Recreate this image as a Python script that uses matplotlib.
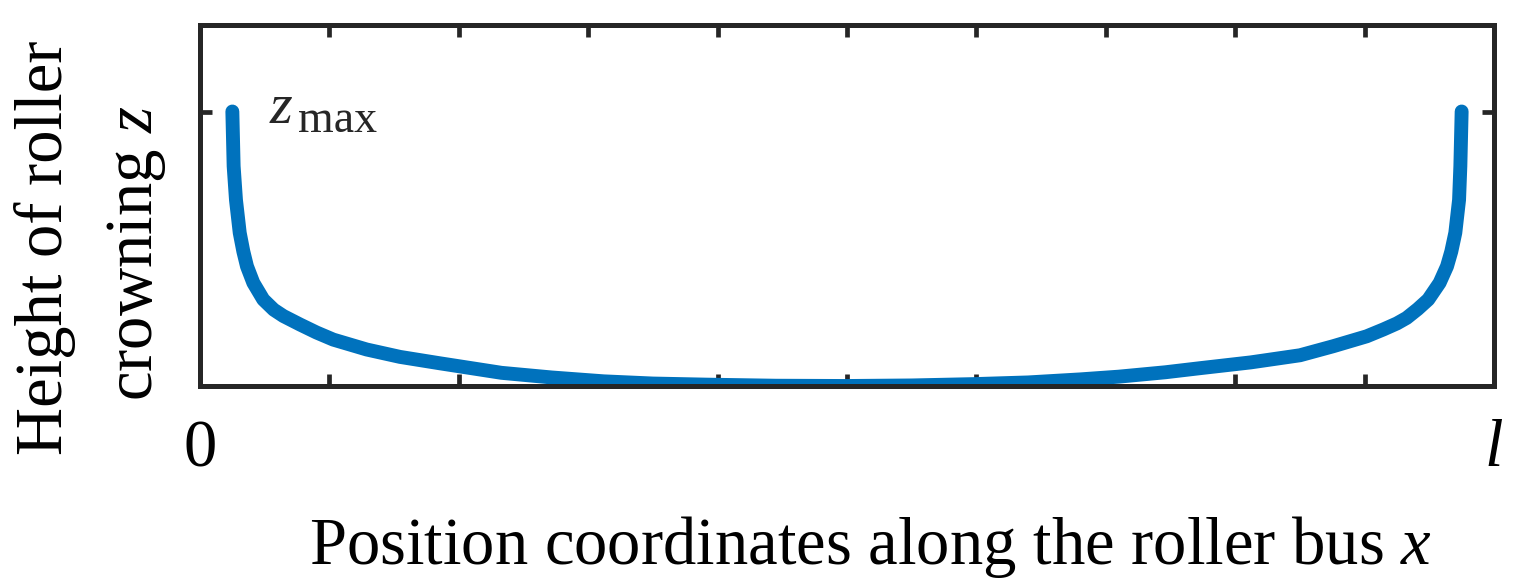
import matplotlib
matplotlib.use('Agg')
import matplotlib.pyplot as plt
import numpy as np

# crowning profile (x in units of l, z in units of z_max)
pos_x = [0.0250, 0.0255, 0.0260, 0.0278, 0.0307, 0.0335, 0.0363, 0.0412, 0.0489,
         0.0570, 0.0644, 0.0773, 0.0900, 0.1030, 0.1288, 0.1546, 0.185, 0.233,
         0.272, 0.312, 0.350, 0.391, 0.445, 0.500, 0.550, 0.599, 0.640, 0.680,
         0.710, 0.746, 0.773, 0.812, 0.8501, 0.8758, 0.9016, 0.9145, 0.9250,
         0.9325, 0.9410, 0.9492, 0.9580, 0.9637, 0.9670, 0.9701, 0.9730,
         0.9740, 0.9745, 0.975]
crown_z = [1.0, 0.90, 0.801, 0.678, 0.558, 0.490, 0.436, 0.376, 0.315,
           0.278, 0.255, 0.224, 0.195, 0.169, 0.133, 0.106, 0.083, 0.048,
           0.031, 0.017, 0.009, 0.005, 0.001, 0.0, 0.002, 0.007, 0.013, 0.024,
           0.034, 0.050, 0.065, 0.086, 0.112, 0.145, 0.181, 0.206, 0.228,
           0.248, 0.280, 0.315, 0.376, 0.436, 0.490, 0.558, 0.678,
           0.801, 0.90, 1.0]
xticks = [0, 0.1, 0.2, 0.3, 0.4, 0.5, 0.6, 0.7, 0.8, 0.9, 1.0]
xtick_labels = ['0', '', '', '', '', '', '', '', '', '', '$l$']

plt.rcParams['font.family'] = ['Liberation Serif', 'DejaVu Serif']
plt.rcParams['mathtext.fontset'] = 'custom'
plt.rcParams['mathtext.rm'] = 'Liberation Serif'
plt.rcParams['mathtext.it'] = 'Liberation Serif:italic'

W, H = 1516, 578
dark = '#262626'
fig = plt.figure(figsize=(W/100, H/100), dpi=100)
ax = fig.add_axes([200/W, 1-386/H, 1294/W, 361/H])

ax.plot(pos_x, crown_z, color='#0072BD', lw=10.0, solid_capstyle='round',
        solid_joinstyle='round')

ax.set_xlim(0, 1)
ax.set_ylim(0, 361/274.5)
ax.set_xticks(xticks)
ax.set_xticklabels(xtick_labels)
ax.set_yticks([1.0])
ax.set_yticklabels([])
ax.tick_params(direction='in', length=8.5, width=3.4, color=dark,
               top=True, right=True, labelsize=48, labelcolor='black', pad=24)
for s in ax.spines.values():
    s.set_linewidth(3.6)
    s.set_color(dark)

# z_max label
fig.text(270/W, 1-123/H, 'z', fontsize=42, style='italic', color=dark,
         va='baseline')
fig.text(298/W, 1-132/H, 'max', fontsize=33, color=dark, va='baseline')

fig.text(62/W, 1-248/H, 'Height of roller', fontsize=48, rotation=90,
         ha='center', va='baseline', rotation_mode='anchor')
fig.text(152/W, 1-253/H, 'crowning $z$', fontsize=48, rotation=90,
         ha='center', va='baseline', rotation_mode='anchor')
fig.text(870/W, 1-564/H, 'Position coordinates along the roller bus $x$',
         fontsize=48, ha='center', va='baseline')

fig.savefig('out.png', dpi=100)
